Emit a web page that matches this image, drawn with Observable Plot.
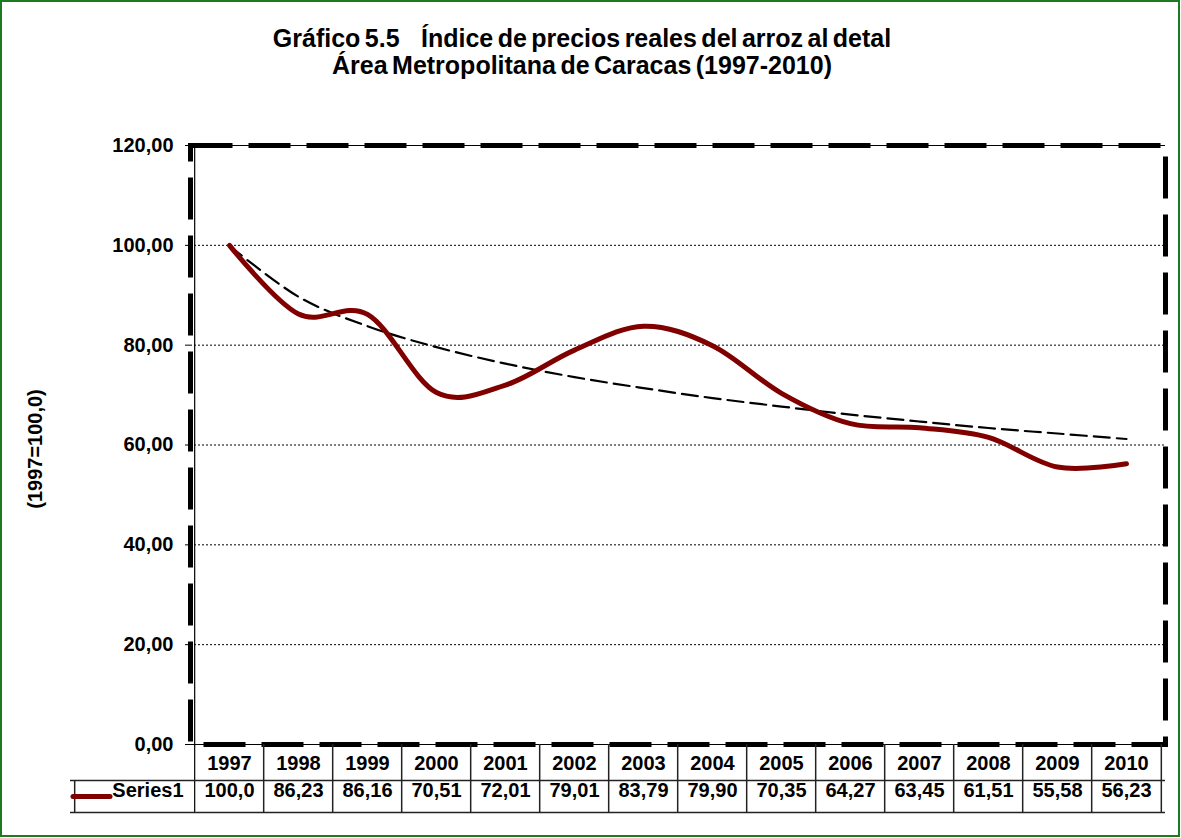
<!DOCTYPE html>
<html>
<head>
<meta charset="utf-8">
<script src="https://cdn.jsdelivr.net/npm/d3@7"></script>
<script src="https://cdn.jsdelivr.net/npm/@observablehq/plot@0.6"></script>
<style>
  html, body { margin: 0; padding: 0; background: #fff; }
  #wrap { position: relative; width: 1181px; height: 838px; overflow: hidden; background: #fff;
          font-family: "Liberation Sans", Arial, sans-serif; }
  #border { position: absolute; left: 0; top: 0; width: 1176px; height: 833px; border: 2px solid #1e7a1e; }
  #title { position: absolute; left: 0; top: 25px; width: 1164px; text-align: center; font-weight: bold;
           font-size: 25px; line-height: 27px; color: #000; word-spacing: -2.5px; white-space: pre; }
  #chart { position: absolute; left: 0; top: 100px; }
</style>
</head>
<body>
<div id="wrap">
  <div id="border"></div>
  <div id="title">Gráfico 5.5&#8194;  Índice de precios reales del arroz al detal
Área Metropolitana de Caracas (1997-2010)</div>
  <div id="chart"></div>
</div>
<script>
// ---- data ----
const years = ["1997","1998","1999","2000","2001","2002","2003","2004","2005","2006","2007","2008","2009","2010"];
const values = [100.0, 86.23, 86.16, 70.51, 72.01, 79.01, 83.79, 79.90, 70.35, 64.27, 63.45, 61.51, 55.58, 56.23];
const valueLabels = ["100,0","86,23","86,16","70,51","72,01","79,01","83,79","79,90","70,35","64,27","63,45","61,51","55,58","56,23"];
// trend line (dashed)
const trend = [99.9, 89.7, 83.8, 79.6, 76.3, 73.6, 71.4, 69.4, 67.7, 66.1, 64.7, 63.4, 62.3, 61.2];
const yTicks = [0, 20, 40, 60, 80, 100, 120];
const gridTicks = [20, 40, 60, 80, 100];
const seriesName = "Series1";
const yLabel = "(1997=100,0)";

const series = years.map((y, i) => ({year: y, value: values[i], label: valueLabels[i]}));
const trendData = years.map((y, i) => ({year: y, value: trend[i]}));

// ---- layout ----
const W = 1181, H = 730, mT = 45, mL = 190, mR = 16, mB = 86;
const frameW = W - mL - mR, frameH = H - mT - mB;
const bw = frameW / years.length;
const row1 = 36, row2 = 68;
const legendW = 120;
const red = "#800000";
const fmt = d => d.toFixed(2).replace(".", ",");
const smooth = d3.curveCatmullRom.alpha(0);

const chart = Plot.plot({
  width: W, height: H,
  marginTop: mT, marginLeft: mL, marginRight: mR, marginBottom: mB,
  style: {fontFamily: "'Liberation Sans', Arial, sans-serif", fontSize: "20px", fontWeight: "bold", color: "#000", background: "transparent", overflow: "visible"},
  x: {type: "point", domain: years, padding: 0.5, tickSize: 0, tickPadding: 11, label: null},
  y: {domain: [0, 120], ticks: yTicks, tickFormat: fmt, tickSize: 5, tickPadding: 12, label: null},
  marks: [
    // dotted gridlines
    Plot.ruleY(gridTicks, {stroke: "#000", strokeWidth: 1, strokeDasharray: "2,2"}),
    // thin axis lines top/bottom
    Plot.ruleY([0, 120], {stroke: "#000", strokeWidth: 1}),
    // left thin line (plot edge + table edge)
    Plot.ruleX([years[0]], {x: d => d, dx: -bw / 2, insetBottom: -row2, stroke: "#000", strokeWidth: 1.2}),
    // thick dashed plot border
    Plot.frame({stroke: "#000", strokeWidth: 5, strokeDasharray: "42,16"}),
    // data table: column separators
    Plot.ruleX(years.slice(1), {x: d => d, dx: -bw / 2, insetTop: frameH, insetBottom: -row2, stroke: "#222", strokeWidth: 1.5}),
    Plot.ruleX([years[years.length - 1]], {x: d => d, dx: bw / 2, insetTop: frameH, insetBottom: -row2, stroke: "#222", strokeWidth: 1.5}),
    Plot.ruleX([years[0]], {x: d => d, dx: -bw / 2 - legendW, insetTop: frameH + row1, insetBottom: -row2, stroke: "#222", strokeWidth: 1.5}),
    Plot.ruleY([0], {dy: row1, insetLeft: -legendW, stroke: "#222", strokeWidth: 1.5}),
    Plot.ruleY([0], {dy: row2, insetLeft: -legendW, stroke: "#222", strokeWidth: 1.5}),
    // table values row
    Plot.text(series, {x: "year", text: "label", frameAnchor: "bottom", dy: (row1 + row2) / 2, fontSize: 20, fontWeight: "bold", fill: "#000"}),
    // legend swatch + series name
    Plot.ruleY([0], {dy: (row1 + row2) / 2, insetLeft: -legendW + 3, insetRight: frameW + 80, stroke: red, strokeWidth: 5, strokeLinecap: "round"}),
    Plot.text([seriesName], {frameAnchor: "bottom-left", text: d => d, textAnchor: "end", dx: -7, dy: (row1 + row2) / 2, fontSize: 20, fontWeight: "bold", fill: "#000"}),
    // y axis label
    Plot.text([yLabel], {frameAnchor: "left", text: d => d, textAnchor: "middle", rotate: -90, dx: -155, dy: 4, fontSize: 20, fontWeight: "bold", fill: "#000"}),
    // trend line
    Plot.line(trendData, {x: "year", y: "value", stroke: "#000", strokeWidth: 2.2, strokeDasharray: "16,7", curve: smooth}),
    // series line
    Plot.line(series, {x: "year", y: "value", stroke: red, strokeWidth: 5, curve: smooth, strokeLinejoin: "round", strokeLinecap: "round"})
  ]
});
document.getElementById("chart").appendChild(chart);
</script>
</body>
</html>
